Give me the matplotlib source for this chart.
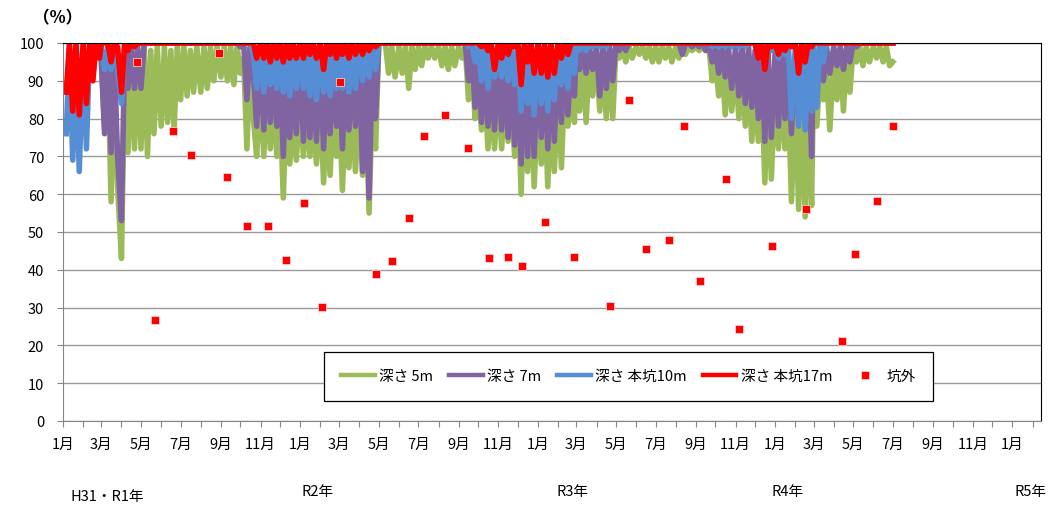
import numpy as np
import pandas as pd
import matplotlib
matplotlib.use('Agg')
import matplotlib.pyplot as plt

plt.rcParams['font.family'] = ['Noto Sans CJK JP', 'DejaVu Sans']

nan = np.nan

# sample days inside each month (~5 day steps)
months = pd.date_range('2019-01-01', '2022-07-01', freq='MS')
days = [1, 6, 11, 16, 21, 26]

green5 = [
    # 2019
    nan, nan, nan, nan, nan, nan,   # Jan
    nan, nan, nan, nan, nan, nan,   # Feb
    96, 77, 94, 58, 93, 62,         # Mar
    43, 96, 71, 97, 72, 98,         # Apr
    72, 99, 70, 98, 76, 99,         # May
    78, 99, 79, 98, 77, 99,         # Jun
    85, 99, 86, 98, 87, 99,         # Jul
    87, 99, 88, 99, 90, 99,         # Aug
    91, 99, 90, 99, 89, 99,         # Sep
    92, 96, 72, 95, 80, 70,         # Oct
    88, 70, 90, 72, 88, 70,         # Nov
    84, 59, 85, 68, 83, 69,         # Dec
    # 2020
    85, 70, 84, 70, 83, 68,         # Jan
    84, 63, 83, 65, 84, 70,         # Feb
    85, 61, 84, 67, 85, 66,         # Mar
    85, 65, 84, 55, 85, 72,         # Apr
    100, 100, 100, 92, 99, 91,      # May
    99, 92, 99, 88, 99, 93,         # Jun
    99, 94, 99, 96, 99, 96,         # Jul
    99, 94, 99, 93, 99, 94,         # Aug
    99, 96, 99, 85, 97, 80,         # Sep
    90, 77, 88, 72, 88, 72,         # Oct
    88, 72, 89, 74, 87, 70,         # Nov
    88, 60, 88, 66, 86, 62,         # Dec
    # 2021
    86, 68, 87, 62, 86, 66,         # Jan
    88, 67, 90, 78, 89, 79,         # Feb
    96, 82, 97, 79, 96, 86,         # Mar
    96, 82, 96, 80, 96, 80,         # Apr
    99, 96, 99, 95, 99, 96,         # May
    99, 97, 99, 96, 99, 95,         # Jun
    99, 95, 99, 96, 99, 95,         # Jul
    99, 96, 99, 97, 99, 98,         # Aug
    99, 98, 99, 98, 99, 90,         # Sep
    95, 86, 96, 81, 95, 82,         # Oct
    94, 80, 93, 78, 94, 74,         # Nov
    90, 74, 91, 63, 90, 64,         # Dec
    # 2022
    90, 72, 89, 72, 88, 58,         # Jan
    88, 56, 88, 54, 87, 57,         # Feb
    92, 78, 93, 85, 92, 77,         # Mar
    96, 85, 97, 82, 97, 87,         # Apr
    99, 95, 99, 94, 99, 95,         # May
    99, 96, 99, 95, 99, 94,         # Jun
    95, nan, nan, nan, nan, nan,    # Jul
]

purple7 = [
    # 2019
    nan, nan, nan, nan, nan, nan,   # Jan
    nan, nan, nan, nan, nan, nan,   # Feb
    95, 76, 96, 71, 95, 70,         # Mar
    53, 99, 88, 99, 88, 99,         # Apr
    88, 100, 100, 100, 100, 100,    # May
    100, 100, 100, 100, 100, 100,   # Jun
    100, 100, 100, 100, 100, 100,   # Jul
    100, 100, 100, 100, 100, 100,   # Aug
    100, 100, 100, 100, 100, 100,   # Sep
    99, 100, 85, 99, 92, 78,        # Oct
    96, 77, 95, 79, 96, 78,         # Nov
    95, 70, 96, 75, 95, 76,         # Dec
    # 2020
    96, 74, 95, 75, 96, 74,         # Jan
    96, 72, 95, 76, 96, 78,         # Feb
    96, 72, 95, 77, 96, 78,         # Mar
    96, 66, 95, 59, 96, 80,         # Apr
    100, 100, 100, 100, 100, 100,   # May
    100, 100, 100, 100, 100, 100,   # Jun
    100, 100, 100, 100, 100, 100,   # Jul
    100, 100, 100, 100, 100, 100,   # Aug
    100, 100, 100, 90, 99, 83,      # Sep
    96, 79, 97, 78, 96, 77,         # Oct
    96, 77, 97, 75, 96, 73,         # Nov
    96, 68, 97, 70, 96, 70,         # Dec
    # 2021
    96, 75, 96, 72, 96, 74,         # Jan
    96, 79, 97, 81, 97, 86,         # Feb
    99, 93, 99, 92, 99, 93,         # Mar
    99, 86, 99, 88, 99, 90,         # Apr
    100, 98, 100, 98, 100, 100,     # May
    100, 100, 100, 100, 100, 100,   # Jun
    100, 100, 100, 100, 100, 100,   # Jul
    100, 100, 97, 100, 100, 99,     # Aug
    100, 99, 100, 98, 100, 95,      # Sep
    99, 92, 99, 91, 99, 88,         # Oct
    99, 86, 99, 84, 99, 83,         # Nov
    98, 80, 99, 74, 98, 75,         # Dec
    # 2022
    98, 78, 99, 80, 98, 76,         # Jan
    97, 80, 97, 79, 97, 70,         # Feb
    98, 88, 99, 90, 99, 92,         # Mar
    99, 94, 99, 93, 99, 95,         # Apr
    100, 99, 100, 100, 100, 100,    # May
    100, 100, 100, 100, 100, 100,   # Jun
    100, nan, nan, nan, nan, nan,   # Jul
]

blue10 = [
    # 2019
    nan, 76, 99, 69, 99, 66,        # Jan
    99, 72, 99, 92, 100, 98,        # Feb
    99, 93, 99, 93, 99, 93,         # Mar
    84, 100, 98, 100, 99, 100,      # Apr
    100, 100, 100, 100, 100, 100,   # May
    100, 100, 100, 100, 100, 100,   # Jun
    100, 100, 100, 100, 100, 100,   # Jul
    100, 100, 100, 100, 100, 100,   # Aug
    100, 100, 100, 100, 100, 100,   # Sep
    100, 100, 100, 100, 97, 88,     # Oct
    99, 87, 99, 89, 98, 88,         # Nov
    99, 87, 98, 86, 99, 88,         # Dec
    # 2020
    99, 88, 98, 86, 99, 85,         # Jan
    99, 87, 98, 86, 99, 88,         # Feb
    99, 88, 99, 87, 99, 88,         # Mar
    99, 90, 99, 91, 99, 93,         # Apr
    100, 100, 100, 100, 100, 100,   # May
    100, 100, 100, 100, 100, 100,   # Jun
    100, 100, 100, 100, 100, 100,   # Jul
    100, 100, 100, 100, 100, 100,   # Aug
    100, 100, 100, 99, 100, 95,     # Sep
    99, 90, 99, 88, 99, 91,         # Oct
    99, 91, 99, 90, 99, 89,         # Nov
    99, 82, 99, 84, 99, 81,         # Dec
    # 2021
    99, 84, 99, 82, 99, 85,         # Jan
    99, 89, 99, 88, 99, 92,         # Feb
    100, 98, 100, 98, 100, 99,      # Mar
    100, 99, 100, 99, 100, 100,     # Apr
    100, 100, 100, 100, 100, 100,   # May
    100, 100, 100, 100, 100, 100,   # Jun
    100, 100, 100, 100, 100, 100,   # Jul
    100, 100, 100, 100, 100, 100,   # Aug
    100, 100, 100, 100, 100, 99,    # Sep
    100, 99, 100, 99, 100, 99,      # Oct
    100, 99, 100, 99, 100, 100,     # Nov
    100, 97, 100, 94, 100, 98,      # Dec
    # 2022
    100, 96, 100, 97, 100, 80,      # Jan
    99, 78, 98, 77, 99, 82,         # Feb
    100, 83, 100, 95, 100, 100,     # Mar
    100, 100, 100, 100, 100, 100,   # Apr
    100, 100, 100, 100, 100, 100,   # May
    100, 100, 100, 100, 100, 100,   # Jun
    100, nan, nan, nan, nan, nan,   # Jul
]

red17 = [
    # 2019
    nan, 87, 100, 82, 100, 81,      # Jan
    100, 84, 100, 90, 100, 96,      # Feb
    100, 100, 100, 95, 100, 99,     # Mar
    87, 100, 98, 100, 99, 100,      # Apr
    100, 100, 100, 100, 100, 100,   # May
    100, 100, 100, 100, 100, 100,   # Jun
    100, 100, 100, 100, 100, 100,   # Jul
    100, 100, 100, 100, 100, 100,   # Aug
    100, 100, 100, 100, 100, 100,   # Sep
    100, 100, 100, 100, 100, 96,    # Oct
    100, 96, 100, 95, 100, 96,      # Nov
    100, 95, 100, 96, 100, 96,      # Dec
    # 2020
    100, 96, 100, 97, 100, 96,      # Jan
    100, 93, 100, 97, 100, 96,      # Feb
    100, 97, 100, 96, 100, 97,      # Mar
    100, 97, 100, 98, 100, 99,      # Apr
    100, 100, 100, 100, 100, 100,   # May
    100, 100, 100, 100, 100, 100,   # Jun
    100, 100, 100, 100, 100, 100,   # Jul
    100, 100, 100, 100, 100, 100,   # Aug
    100, 100, 100, 100, 100, 100,   # Sep
    100, 99, 100, 98, 100, 93,      # Oct
    100, 96, 100, 97, 100, 99,      # Nov
    100, 89, 100, 95, 100, 92,      # Dec
    # 2021
    100, 92, 100, 91, 100, 92,      # Jan
    100, 96, 100, 97, 100, 100,     # Feb
    100, 100, 100, 100, 100, 100,   # Mar
    100, 100, 100, 100, 100, 100,   # Apr
    100, 100, 100, 100, 100, 100,   # May
    100, 100, 100, 100, 100, 100,   # Jun
    100, 100, 100, 100, 100, 100,   # Jul
    100, 100, 100, 100, 100, 100,   # Aug
    100, 100, 100, 100, 100, 100,   # Sep
    100, 100, 100, 100, 100, 100,   # Oct
    100, 100, 100, 100, 100, 100,   # Nov
    100, 96, 100, 93, 100, 99,      # Dec
    # 2022
    100, 97, 100, 98, 100, 99,      # Jan
    100, 92, 100, 95, 100, 99,      # Feb
    100, 100, 100, 100, 100, 100,   # Mar
    100, 100, 100, 100, 100, 100,   # Apr
    100, 100, 100, 100, 100, 100,   # May
    100, 100, 100, 100, 100, 100,   # Jun
    100, nan, nan, nan, nan, nan,   # Jul
]

# 坑外 (outside the tunnel)
outside_dates = ['2019-04-25', '2019-05-22', '2019-06-19', '2019-07-17', '2019-08-29',
                 '2019-09-10', '2019-10-11', '2019-11-12', '2019-12-10', '2020-01-07',
                 '2020-02-03', '2020-03-02', '2020-04-26', '2020-05-21', '2020-06-17',
                 '2020-07-09', '2020-08-11', '2020-09-15', '2020-10-17', '2020-11-16',
                 '2020-12-08', '2021-01-12', '2021-02-26', '2021-04-21', '2021-05-21',
                 '2021-06-16', '2021-07-22', '2021-08-13', '2021-09-07', '2021-10-17',
                 '2021-11-06', '2021-12-27', '2022-02-18', '2022-04-13', '2022-05-04',
                 '2022-06-07', '2022-07-01']
outside_vals = [95.0, 26.7, 76.8, 70.4, 97.3, 64.6, 51.5, 51.5, 42.7, 57.7,
                30.2, 89.6, 39.0, 42.4, 53.7, 75.3, 81.0, 72.1, 43.2, 43.5,
                40.9, 52.6, 43.3, 30.4, 85.0, 45.4, 47.9, 78.0, 37.0, 63.9,
                24.3, 46.3, 56.0, 21.2, 44.1, 58.3, 78.0]

year_labels = ['H31・R1年', 'R2年', 'R3年', 'R4年', 'R5年']

dates = [m + pd.Timedelta(days=d - 1) for m in months for d in days]
out_dates = pd.to_datetime(outside_dates)

fig = plt.figure(figsize=(10.64, 5.06), dpi=100)
W, H = 1064, 506
ax = fig.add_axes([63 / W, 1 - 422 / H, (1041 - 63) / W, (422 - 44) / H])

lw = 4.0
ax.plot(dates, green5, color='#9BBB59', lw=lw, label='深さ 5m')
ax.plot(dates, purple7, color='#8064A2', lw=lw, label='深さ 7m')
ax.plot(dates, blue10, color='#558ED5', lw=lw, label='深さ 本坑10m')
ax.plot(dates, red17, color='#FF0000', lw=lw, label='深さ 本坑17m')
ax.plot(out_dates, outside_vals, 's', color='#FF0000', ms=6,
        mec='#ffe0e0', mew=0.5, label='坑外', zorder=5)

ax.set_ylim(0, 100)
ax.set_yticks(range(0, 101, 10))
ax.set_xlim(pd.Timestamp('2019-01-01'), pd.Timestamp('2023-02-14'))
ticks = pd.date_range('2019-01-01', '2023-02-01', freq='MS')
ax.set_xticks(ticks)
ax.set_xticklabels([f'{t.month}月' if t.month % 2 == 1 else '' for t in ticks])

ax.grid(axis='y', color='#9a9a9a', lw=1.0)
ax.set_axisbelow(True)
ax.tick_params(axis='both', direction='out', color='#868686', labelsize=10.5, length=4.5)
ax.tick_params(axis='x', pad=7)
ax.tick_params(axis='y', pad=9)
for s in ['left', 'bottom']:
    ax.spines[s].set_color('#868686')
for s in ['top', 'right']:
    ax.spines[s].set_color('black')
    ax.spines[s].set_linewidth(0.8)

leg = ax.legend(loc='center', bbox_to_anchor=(0.578, 0.119), ncol=5, fontsize=10.5,
                frameon=True, fancybox=False, edgecolor='black', framealpha=1,
                handlelength=2.3, handletextpad=0.3, columnspacing=1.1, borderpad=1.2)
leg.get_frame().set_linewidth(0.9)
for h in leg.get_lines()[:4]:
    h.set_linewidth(3.2)

fig.text(58 / W, 1 - 18 / H, '（%）', fontsize=12, fontweight='bold', ha='center', va='center')
year_x = [107, 318, 572, 788, 1031]
year_y = [497, 492, 492, 492, 492]
for lab, x, y in zip(year_labels, year_x, year_y):
    fig.text(x / W, 1 - y / H, lab, fontsize=10.5, ha='center', va='center')

fig.savefig('out.png', dpi=100)
